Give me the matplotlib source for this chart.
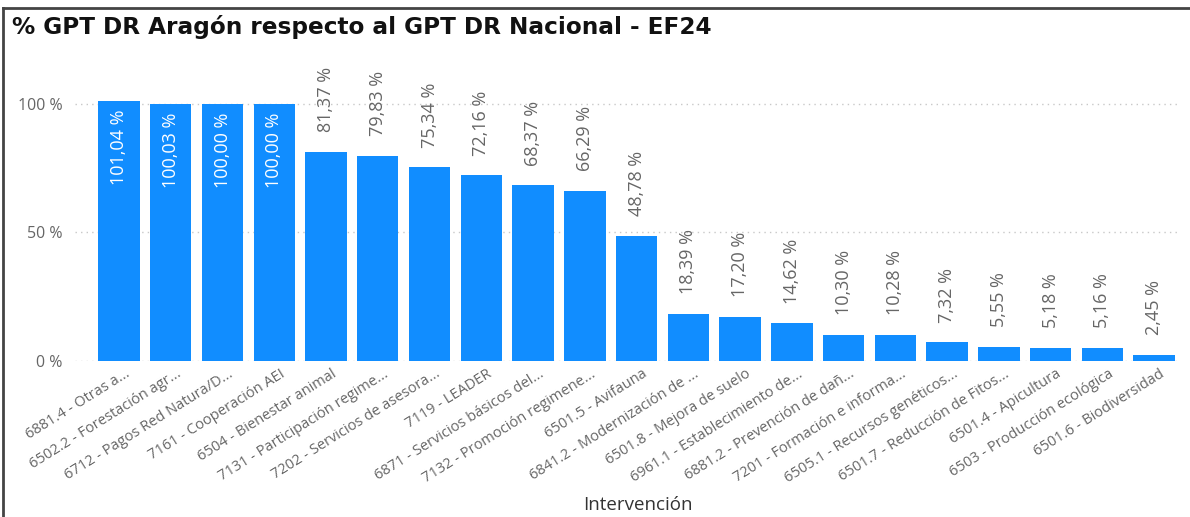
import matplotlib.pyplot as plt
from matplotlib.lines import Line2D
from matplotlib.transforms import ScaledTranslation

plt.rcParams['font.family'] = ['Open Sans', 'DejaVu Sans']

categorias = [
    '6881.4 - Otras a...', '6502.2 - Forestación agr...', '6712 - Pagos Red Natura/D...',
    '7161 - Cooperación AEI', '6504 - Bienestar animal', '7131 - Participación regime...',
    '7202 - Servicios de asesora...', '7119 - LEADER', '6871 - Servicios básicos del...',
    '7132 - Promoción regimene...', '6501.5 - Avifauna', '6841.2 - Modernización de ...',
    '6501.8 - Mejora de suelo', '6961.1 - Establecimiento de...', '6881.2 - Prevención de dañ...',
    '7201 - Formación e informa...', '6505.1 - Recursos genéticos...', '6501.7 - Reducción de Fitos...',
    '6501.4 - Apicultura', '6503 - Producción ecológica', '6501.6 - Biodiversidad',
]
porcentajes = [101.04, 100.03, 100.00, 100.00, 81.37, 79.83, 75.34, 72.16, 68.37, 66.29,
               48.78, 18.39, 17.20, 14.62, 10.30, 10.28, 7.32, 5.55, 5.18, 5.16, 2.45]

azul = '#118DFF'
gris = '#666666'

fig = plt.figure(figsize=(11.9, 5.17), dpi=100)
ax = fig.add_axes([75 / 1190, 1 - 361 / 517, (1180 - 75) / 1190, (361 - 80) / 517])

x = list(range(len(categorias)))
ax.bar(x, porcentajes, width=0.8, color=azul, zorder=2)

for i, v in enumerate(porcentajes):
    texto = f'{v:.2f}'.replace('.', ',') + ' %'
    if v >= 90:
        ax.annotate(texto, (i, v), xytext=(0, -6), textcoords='offset points',
                    rotation=90, ha='center', va='top', color='white', fontsize=13)
    else:
        ax.annotate(texto, (i, v), xytext=(0, 14), textcoords='offset points',
                    rotation=90, ha='center', va='bottom', color=gris, fontsize=13,
                    annotation_clip=False)

ax.set_xlim(-0.85, len(categorias) - 0.5)
ax.set_ylim(0, 109.3)
ax.set_yticks([0, 50, 100])
ax.set_yticklabels(['0 %', '50 %', '100 %'], color=gris, fontsize=11.5)
ax.yaxis.grid(True, linestyle=(0, (1, 3)), color='#c8c8c8', linewidth=1, zorder=0)
ax.set_xticks(x)
ax.set_xticklabels(categorias, rotation=32, ha='right', rotation_mode='anchor',
                   color=gris, fontsize=10.5)
ax.tick_params(axis='y', length=0, pad=9)
ax.tick_params(axis='x', length=0, pad=4)
desplaza = ScaledTranslation(4 / 72, 0, fig.dpi_scale_trans)
for lbl in ax.get_xticklabels():
    lbl.set_transform(lbl.get_transform() + desplaza)
for s in ax.spines.values():
    s.set_visible(False)

ax.set_xlabel('Intervención', fontsize=13.5, color='#333333')
ax.xaxis.set_label_coords(0.509, -0.48)

fig.text(12 / 1190, 1 - 34 / 517, '% GPT DR Aragón respecto al GPT DR Nacional - EF24',
         fontsize=16.7, fontweight='bold', family='DejaVu Sans', color='#111111', va='baseline')

# marco
fig.add_artist(Line2D([3 / 1190, 1], [1 - 8 / 517] * 2, color='#444444', linewidth=2))
fig.add_artist(Line2D([3 / 1190] * 2, [0, 1 - 8 / 517], color='#444444', linewidth=2))

fig.savefig('out.png', dpi=100)
